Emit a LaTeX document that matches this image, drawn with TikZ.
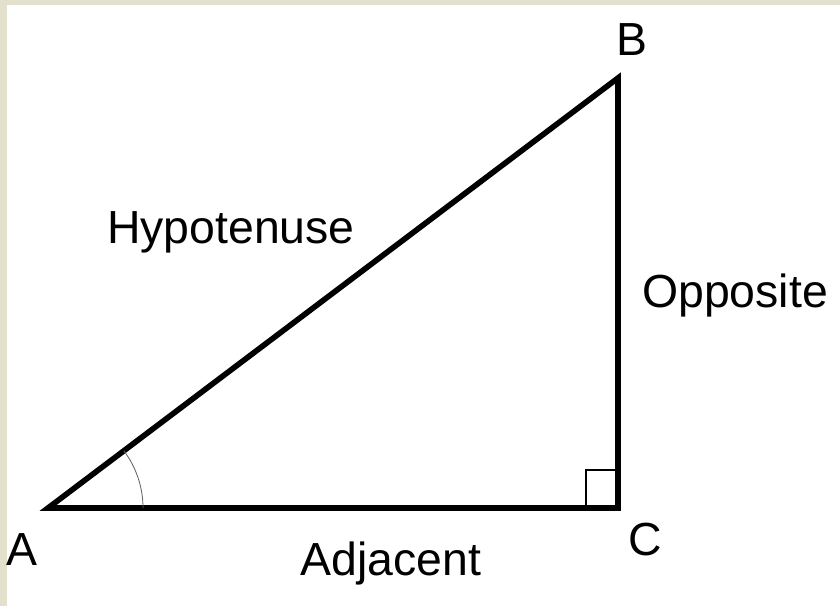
\documentclass[tikz,border=0pt]{standalone}
\usepackage{fontspec}
\setmainfont{Liberation Sans}
\usepackage{tikz}
\usetikzlibrary{positioning,calc}
\definecolor{frame}{HTML}{E3E0CE}

\begin{document}
\begin{tikzpicture}[x=0.025cm,y=-0.025cm,
  side/.style={line width=4pt,line join=miter,black},
  lbl/.style={font=\fontsize{33}{38}\selectfont,inner sep=0pt}]
\useasboundingbox (0,0) rectangle (840,606);
\fill[frame] (0,0) rectangle (840,606);
\fill[white] (7,5) rectangle (840,606);
\coordinate (A) at (48,508);
\coordinate (C) at (618,508);
\coordinate (B) at (618,78);
\draw[side] (A)--(C)--(B)--cycle;
\draw[line width=0.6pt,black!60] ($(A)+(95,0)$) arc[start angle=0,end angle=-37,radius=95];
\draw[line width=1.2pt] ($(C)+(-32,0)$)--++(0,-38)--++(32,0);
\node[lbl] (labA) at (22,550){A};
\node[lbl] (labB) at (632,40){B};
\node[lbl] (labC) at (645,540){C};
\node[lbl] (hyp) at (231,232){Hypotenuse};
\node[lbl] (opp) at (735,295){Opposite};
\node[lbl] (adj) at (391,563){Adjacent};
\end{tikzpicture}
\end{document}
